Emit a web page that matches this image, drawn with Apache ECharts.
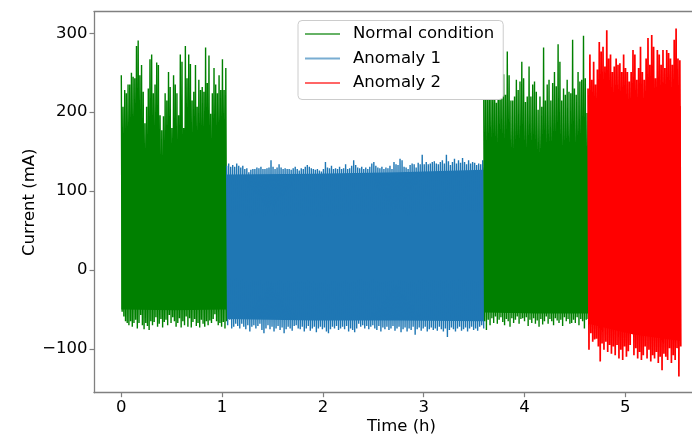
<!DOCTYPE html>
<html><head><meta charset="utf-8">
<script src="https://cdn.jsdelivr.net/npm/echarts@6/dist/echarts.min.js"></script>
<style>html,body{margin:0;padding:0;background:#fff}#c{width:692px;height:436px}</style>
</head><body><div id="c"></div>
<script>
// ---- labels / ticks ----
const seriesNames = ['Normal condition', 'Anomaly 1', 'Anomaly 2'];
const xTicks = [0, 1, 2, 3, 4, 5];
const yTicks = [-100, 0, 100, 200, 300];

// ---- segment time spans (h) ----
const normal1Span = [0, 1.045];
const anomaly1Span = [1.045, 3.595];
const normal2Span = [3.595, 4.63];
const anomaly2Span = [4.63, 5.55];

// ---- spike peaks / troughs (mA) ----
const normal1Peaks = [247,207,228,224,235,235,250,245,243,284, 291,247,260,226,186,207,230,267,273,224,
  235,263,260,196,177,195,224,215,251,232, 180,247,235,224,196,273,264,180,284,243,
  273,261,215,226,260,207,241,228,232,226, 282,237,272,198,224,256,235,224,247,228, 267,228,256];
const normal1Troughs = [-53,-59,-65,-67,-70,-65,-72,-67,-63,-74,-67,-57,-70,
  -75,-67,-71,-76,-65,-70,-66,-60,-72, -68,-62,-73,-66,-63,-70,-57,-67,-60,
  -65,-72,-67,-61,-73,-65,-70,-59,-72, -61,-73,-66,-62,-71,-67,-73,-63,-68,
  -72,-65,-70,-64,-67,-62,-56,-65,-70, -67,-72,-66,-74,-65];

const anomaly1Peaks = [132,135,131,133,131,135,132,130,132,128, 129,124,127,128,128,130,129,131,128,128,
  129,130,139,131,128,130,134,130,128,129, 128,128,127,129,131,128,126,129,128,131,
  133,131,129,128,127,128,126,125,128,137, 130,129,132,128,129,128,131,128,129,134,
  128,129,132,139,133,
  130,129,131,128,130,128,131,135,137,132, 130,129,131,128,130,129,132,128,137,134,
  133,141,139,131,130,128,133,135,134,130, 136,134,146,134,137,134,135,137,138,135,
  134,137,139,135,146,138,133,137,141,135, 139,136,142,137,134,139,135,137,136,133, 135,134,139];
const anomaly1Troughs = [-70,-63,-74,-72,-68,-71,-74,-68,-72,-75, -70,-78,-72,-70,-74,-71,-68,-76,-80,-74,
  -70,-75,-72,-78,-74,-71,-76,-73,-80,-75, -72,-74,-77,-71,-70,-74,-75,-72,-78,-74,
  -71,-77,-74,-72,-79,-74,-72,-75,-73,-78, -80,-75,-72,-74,-71,-76,-74,-72,-75,-71,
  -78,-74,-76,-79,-74,
  -68,-72,-70,-74,-71,-75,-72,-70,-74,-76, -71,-78,-73,-75,-72,-76,-74,-71,-77,-74,
  -72,-79,-75,-73,-78,-74,-76,-72,-82,-75, -73,-77,-74,-72,-78,-75,-73,-76,-74,-77,
  -72,-75,-78,-74,-85,-76,-73,-75,-78,-74, -72,-77,-75,-73,-78,-74,-72,-76,-74,-77, -72,-70,-74];

const normal2Peaks = [235,250,218,262,240,228,255,212,245,260,230,248,222,
  277,247,215,215,220,241,228,239,264,243,213,220,258,220,235,239,226,203,220,207,
  282,215,235,241,215,237,251,233,286,264,215,230,222,241,226,224,292,230,222,251,239,241,297,243,199];
const normal2Troughs = [-65,-76,-63,-70,-61,-67,-59,-68,-63,-60, -66,-70,-62,-65,-72,-61,-67,-63,-59,-68,
  -62,-61,-65,-60,-71,-63,-67,-61,-68,-64, -72,-62,-69,-65,-59,-68,-62,-65,-70,-61,
  -64,-67,-63,-71,-60,-65,-62,-68,-67,-63, -67,-60,-70,-62,-65,-74,-63,-62];

const anomaly2Peaks = [230,273,241,264,235,254,289,277,283,258, 304,268,273,251,258,268,260,262,251,273,
  256,251,239,251,279,273,241,256,283,251, 241,268,294,260,298,283,243,279,273,260,
  279,256,279,275,268,260,292,306,268,266];
const anomaly2Troughs = [-101,-80,-91,-88,-87,-97,-116,-93,-101,-91,-104,
  -95,-106,-97,-108,-95,-112,-101,-114,-97,-110, -103,-95,-74,-108,-99,-112,-104,-114,-108,-97,-112,
  -101,-116,-108,-112,-104,-118,-110,-127,-106,-110,-114, -99,-118,-108,-114,-99,-135,-97];

// ---- solid core of each band (mA), evenly across its span ----
const normal1CoreTop = [125, 132, 128];
const normal1CoreBottom = [-50, -51, -50];
const anomaly1CoreTop = [121, 122, 124, 127];
const anomaly1CoreBottom = [-62, -64, -64, -65];
const normal2CoreTop = [130, 130, 130];
const normal2CoreBottom = [-54, -55, -55];
const anomaly2CoreTop = [188, 200, 208];
const anomaly2CoreBottom = [-68, -82, -90];

const colors = ['#008000', '#1f77b4', '#ff0000'];
const legendColors = ['#66b266', '#79add2', '#ff6666'];
const spikeWidths = [1.4, 1.4, 1.7];

function zigzag(span, peaks, troughs) {
  const n = peaks.length, dt = (span[1] - span[0]) / (2 * n - 1), pts = [];
  for (let i = 0; i < n; i++) {
    pts.push([span[0] + 2 * i * dt, peaks[i]]);
    pts.push([span[0] + (2 * i + 1) * dt, troughs[i]]);
  }
  return pts;
}
function core(span, tops, bots) {
  const n = tops.length, dt = (span[1] - span[0]) / (n - 1), pts = [];
  for (let i = 0; i < n; i++) pts.push([span[0] + i * dt, tops[i], bots[i]]);
  return pts;
}
function coreSeries(name, color, pts) {
  return {
    type: 'custom', name: name, data: pts, encode: { x: 0, y: [1, 2] }, z: 1, silent: true,
    renderItem: function (params, api) {
      if (params.dataIndex !== 0) return null;
      const poly = [];
      for (let i = 0; i < pts.length; i++) poly.push(api.coord([pts[i][0], pts[i][1]]));
      for (let i = pts.length - 1; i >= 0; i--) poly.push(api.coord([pts[i][0], pts[i][2]]));
      return { type: 'polygon', shape: { points: poly }, style: { fill: color } };
    }
  };
}
function lineSeries(name, color, width, pts) {
  return {
    type: 'line', name: name, data: pts, showSymbol: false, symbol: 'none', z: 2, silent: true,
    lineStyle: { color: color, width: width, opacity: 1 }, itemStyle: { color: color },
    emphasis: { disabled: true }
  };
}

const minus = v => String(v).replace('-', '\u2212');
const font = 'DejaVu Sans';
const axisCol = '#808080';
const xMin = -0.271, xMax = 5.83;

const chart = echarts.init(document.getElementById('c'), null, { renderer: 'canvas' });
chart.setOption({
  animation: false,
  backgroundColor: '#ffffff',
  grid: { left: 94, top: 11.7, width: 615, height: 381, outerBoundsMode: 'none', containLabel: false },
  legend: {
    orient: 'vertical', left: 298, top: 20.5,
    padding: [3.5, 9, 6.5, 7],
    itemWidth: 35, itemHeight: 2, itemGap: 4.5, icon: 'rect',
    selectedMode: false,
    backgroundColor: '#ffffff', borderColor: '#cccccc', borderWidth: 1, borderRadius: 4,
    textStyle: { fontFamily: font, fontSize: 16.5, color: '#000', lineHeight: 20, padding: [0, 0, 0, 8] },
    data: seriesNames.map((n, i) => ({ name: n, itemStyle: { color: legendColors[i] } }))
  },
  xAxis: [{
    type: 'value', min: xMin, max: xMax,
    name: 'Time (h)', nameLocation: 'middle', nameGap: 26, nameMoveOverlap: false,
    nameTextStyle: { fontFamily: font, fontSize: 16.5, color: '#000' },
    axisLine: { show: true, onZero: false, lineStyle: { color: axisCol, width: 1.3 } },
    axisTick: { show: true, inside: false, length: 4.5, customValues: xTicks, lineStyle: { color: axisCol, width: 1.2 } },
    axisLabel: { customValues: xTicks, margin: 7, fontFamily: font, fontSize: 16.5, color: '#000', formatter: minus },
    splitLine: { show: false }
  }, {
    type: 'value', position: 'top', min: xMin, max: xMax,
    axisLine: { show: true, onZero: false, lineStyle: { color: axisCol, width: 1.3 } },
    axisTick: { show: false }, axisLabel: { show: false }, splitLine: { show: false }
  }],
  yAxis: {
    type: 'value', min: -155.5, max: 327.4,
    name: 'Current (mA)', nameLocation: 'middle', nameGap: 56, nameMoveOverlap: false,
    nameTextStyle: { fontFamily: font, fontSize: 16.5, color: '#000' },
    axisLine: { show: true, onZero: false, lineStyle: { color: axisCol, width: 1.3 } },
    axisTick: { show: true, inside: false, length: 4.5, customValues: yTicks, lineStyle: { color: axisCol, width: 1.2 } },
    axisLabel: { customValues: yTicks, margin: 6.5, fontFamily: font, fontSize: 16.5, color: '#000', formatter: minus },
    splitLine: { show: false }
  },
  series: [
    coreSeries(seriesNames[0], colors[0], core(normal1Span, normal1CoreTop, normal1CoreBottom)),
    lineSeries(seriesNames[0], colors[0], spikeWidths[0], zigzag(normal1Span, normal1Peaks, normal1Troughs)),
    coreSeries(seriesNames[1], colors[1], core(anomaly1Span, anomaly1CoreTop, anomaly1CoreBottom)),
    lineSeries(seriesNames[1], colors[1], spikeWidths[1], zigzag(anomaly1Span, anomaly1Peaks, anomaly1Troughs)),
    coreSeries(seriesNames[0], colors[0], core(normal2Span, normal2CoreTop, normal2CoreBottom)),
    lineSeries(seriesNames[0], colors[0], spikeWidths[0], zigzag(normal2Span, normal2Peaks, normal2Troughs)),
    coreSeries(seriesNames[2], colors[2], core(anomaly2Span, anomaly2CoreTop, anomaly2CoreBottom)),
    lineSeries(seriesNames[2], colors[2], spikeWidths[2], zigzag(anomaly2Span, anomaly2Peaks, anomaly2Troughs))
  ]
});
</script></body></html>
